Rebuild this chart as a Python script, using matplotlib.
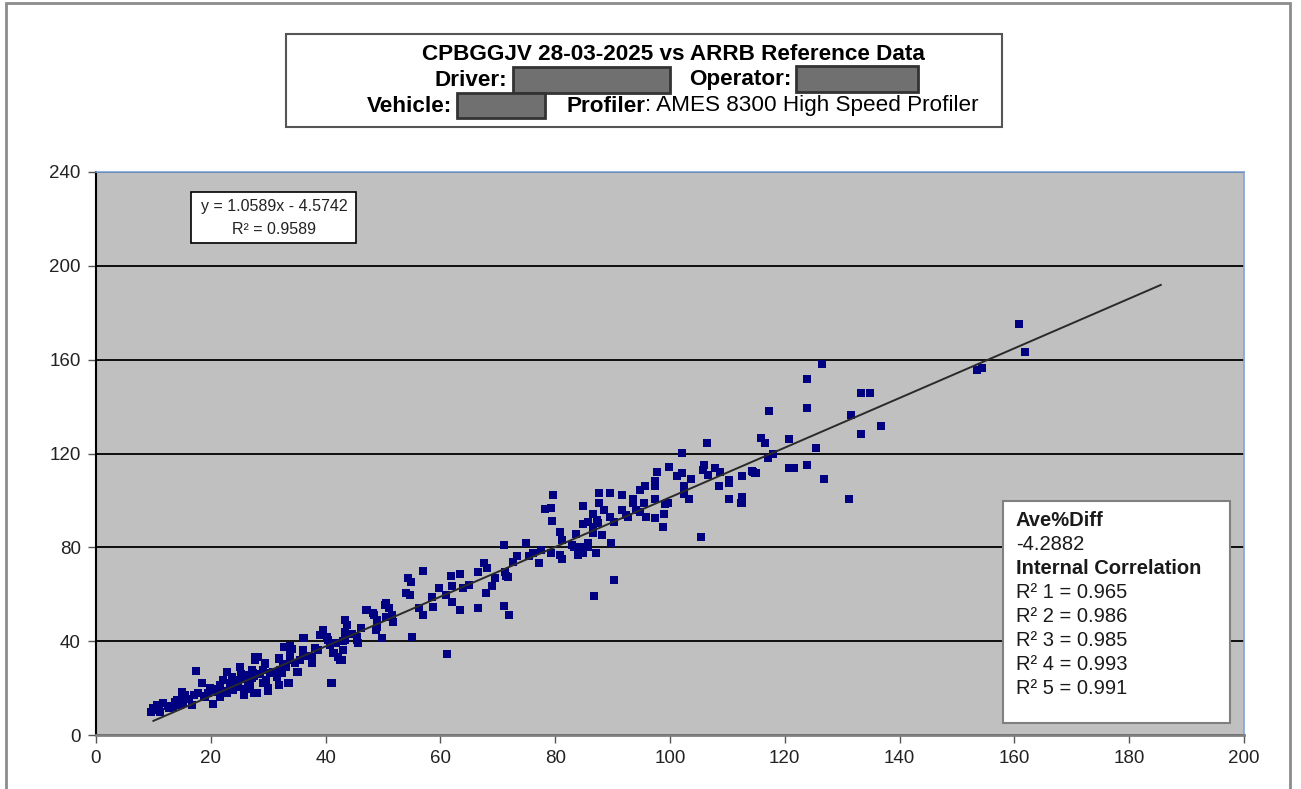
import matplotlib.pyplot as plt
from matplotlib.patches import Rectangle

plt.rcParams['font.family'] = ['Liberation Sans', 'DejaVu Sans']

# reference IRI (x) vs profiler IRI (y)
ref_x = [10, 10.6, 11.7, 14.1, 14.9, 15.5, 13.5, 14.6, 17.5, 18.4, 17, 17.8, 16.7,
         20.4, 21.6, 22.2, 22.9, 23.3, 20.4, 21.6, 22.8, 23.9, 24.5, 25.1, 25.7, 26,
         26.8, 27.1, 27.7, 28.3, 28, 29.1, 29.7, 30, 31.8, 32.1, 32.9, 33.5, 33.8, 34.7, 35,
         36.1, 36.1, 37.6, 38.2, 39.6, 40.2, 40.8, 41.1, 41.5, 42.5,
         43.4, 43.7, 43.4, 43.1, 45.4, 45.7, 47.2, 48.3, 48.9, 50.3, 50.6,
         9.5, 11, 12.5, 16, 19, 19.5, 21, 23.5, 24.5, 25.5, 26.5, 27.5,
         57, 54.4, 54.9, 54, 54.7, 55.1, 61.1, 58.5, 58.7, 59.8, 57, 56.2, 61.8, 62.1, 63.5,
         63.5, 62, 60.9, 64, 64.9, 66.5, 66.5, 67.6, 68.2, 67.9, 69, 69.5, 71.5,
         47, 48.4, 48.9, 50.5, 51.1, 51.5, 49.8, 48.8, 48.9, 51.7, 43.3, 43, 45.4,
         39.5, 40.5, 41.3, 42.2, 42.8, 40.9, 36.3, 36.1, 37.6, 37.6, 33.8, 32.8, 33.8, 33.1,
         32.4, 35.2, 33.7, 31.8, 29.4, 30.3, 29.1, 30, 27.7, 27.4, 26.8, 27.5, 31.8, 31.5,
         106.5, 102.1, 99.8, 97.8, 101.3, 102.1, 103.6, 105.9, 105.7, 106.7, 107.8, 108.7,
         108.5, 110.2, 110.3, 112.5, 114.4, 114.9, 97.3, 97.3, 102.4, 95.6, 94.7, 110.3,
         112.5, 112.3, 105.4, 102.5, 103.3, 99.7, 99.1, 97.3, 99, 98.8, 97.3, 95.5, 95.8,
         93.5, 93.5, 94.7, 94.1, 91.6, 89.5, 87.6, 87.6, 91.6, 92.3, 92.6, 88.5, 89.5, 90.3,
         86.5, 87.2, 84.9, 84.9, 85.7, 86.6, 87.5, 88.1, 86.5, 89.7, 90.3, 86.8, 87.1, 85.7,
         84.3, 83.6, 82.9, 83.2, 84, 80.8, 81.1, 79.7, 79.3, 78.2, 79.5, 80.8, 81.1, 79.3,
         77.5, 77.1, 76.2, 75.5, 74.9, 73.3, 72.7, 71.1, 71.3, 71.7, 71.1, 72, 84.9, 85.7,
         160.8, 161.8, 153.5, 154.4, 126.5, 123.8, 117.3, 123.8, 133.2, 134.8, 131.6, 136.8,
         133.2, 115.8, 116.5, 120.8, 125.4, 117, 117.9, 123.8, 120.8, 121.6, 114.3, 114.8,
         112.5, 126.8, 131.1, 112.5, 112.5,
         11.2, 12.8, 13.8, 15.2, 16.2, 18.8, 19.8, 20.8, 22.4, 23.7, 24.8, 25.2, 26.2,
         27.2, 28.6, 29.4, 30.8, 32.6, 34.2, 35.6, 37, 38.6, 39, 41.8, 44.6, 46.2]
hsp_y = [11.4, 12.8, 13.5, 14.9, 18.5, 17.1, 12.1, 12.8, 27.4, 22, 17.1, 17.8, 12.8,
         19.2, 21.3, 23.4, 27, 22, 13.2, 16.3, 17.8, 19.2, 23.4, 29.1, 17.1, 25.6,
         22.7, 27.7, 32, 33.4, 17.8, 27.7, 23.4, 19.9, 32.7, 27.7, 29.8, 22, 34.1, 30.6, 27,
         41.2, 36.2, 32.7, 37, 44.8, 41.9, 38.4, 22, 34.8, 32,
         49, 46.9, 40.5, 36.2, 40.5, 39.1, 53.3, 51.9, 46.2, 55.4, 50.4,
         10, 10.5, 12.5, 15.5, 16, 18, 18.5, 21, 20.5, 24, 21.5, 25,
         69.9, 66.8, 65.1, 60.7, 59.7, 41.9, 34.5, 59, 54.4, 62.5, 51.2, 54, 67.8, 63.5, 68.5,
         53.3, 56.8, 59.7, 62.5, 63.9, 54, 69.6, 73.4, 71.1, 60.7, 63.5, 66.8, 67.8,
         53.3, 51.2, 49, 56.1, 54, 51.2, 41.5, 44.8, 46.9, 48.3, 44, 40.1, 41.9,
         44.8, 40.5, 34.8, 33.4, 32, 22, 41.2, 35.5, 33.4, 30.6, 37.9, 37.4, 32, 29.1,
         26.3, 27, 22, 21.3, 30.6, 26.3, 22, 18.9, 33.4, 26.3, 21.3, 17.8, 32.3, 24.9,
         124.3, 120.1, 114.4, 112.2, 110.4, 111.5, 109, 115.1, 113, 110.8, 113.7, 112.2,
         106.1, 108.7, 107.5, 110.4, 112.2, 111.8, 108.3, 106.3, 106.3, 106.1, 104.4, 100.5,
         101.2, 99, 84.5, 102.7, 100.5, 98.8, 98.5, 100.5, 94.2, 88.5, 92.4, 98.8, 93.1,
         100.5, 98.8, 95.2, 95.9, 102.3, 103.3, 103.3, 99, 95.9, 93.8, 93.1, 95.9, 93.1, 90.9,
         94.1, 91.6, 97.6, 89.8, 90.7, 88.8, 90.2, 85.3, 86.2, 81.7, 66.1, 59.3, 77.7, 81.7,
         80.3, 85.6, 81, 80.3, 76.7, 86.4, 83.1, 102.3, 96.9, 96.3, 91.3, 76.7, 74.9, 77.7,
         78.9, 73.4, 77.7, 76.3, 81.7, 76.3, 73.9, 81, 69.6, 67.2, 55, 51.2, 77.4, 80.3,
         175.2, 163.3, 155.6, 156.4, 158.1, 151.6, 138.2, 139.5, 145.6, 145.6, 136.3, 131.7,
         128.3, 126.5, 124.3, 126.3, 122.5, 118, 120, 115, 113.7, 113.7, 112.5, 111.8,
         110.4, 109, 100.5, 101.6, 98.8,
         9.8, 11.6, 14.2, 13.6, 15.4, 16.6, 20.2, 19.4, 18.8, 24.6, 20.4, 26.2, 19.6,
         24.2, 25.8, 30.4, 26.8, 30.2, 36.6, 31.8, 33.6, 36.2, 42.6, 39.4, 43.2, 45.8]

slope = 1.0589
intercept = -4.5742
r2 = 0.9589
trend_x = [10, 185.5]

ave_diff = -4.2882
internal_r2 = [0.965, 0.986, 0.985, 0.993, 0.991]

W, H = 1301, 789
fig = plt.figure(figsize=(W / 100, H / 100), dpi=100)


def fx(px):
    return px / W


def fy(py):
    return 1 - py / H


def box(x0, y0, x1, y1, **kw):
    # rectangle given in pixel corners of the sheet
    fig.patches.append(Rectangle((fx(x0), fy(y1)), fx(x1) - fx(x0), fy(y0) - fy(y1),
                                 transform=fig.transFigure, **kw))


# outer frame of the sheet
box(6, 3, 1290, 800, fill=False, edgecolor='#8c8c8c', linewidth=2)

ax = fig.add_axes([fx(96), fy(735), fx(1244) - fx(96), fy(172) - fy(735)])
ax.set_facecolor('#c0c0c0')

ax.scatter(ref_x, hsp_y, marker='s', s=30, color='#000080', linewidths=0, zorder=3)
ax.plot(trend_x, [slope * v + intercept for v in trend_x], color='#2a2a2a',
        linewidth=1.4, zorder=4)

ax.set_xlim(0, 200)
ax.set_ylim(0, 240)
ax.set_xticks(range(0, 201, 20))
ax.set_yticks(range(0, 241, 40))
ax.yaxis.grid(True, color='black', linewidth=1.3)
ax.set_axisbelow(True)
ax.tick_params(labelsize=13.5, labelcolor='#222222', length=6, width=1,
               color='#555555', pad=5)
ax.spines['left'].set_color('black')
ax.spines['left'].set_linewidth(1.5)
ax.spines['bottom'].set_color('#808080')
ax.spines['bottom'].set_linewidth(2)
for s in ['top', 'right']:
    ax.spines[s].set_color('#7ea6d8')
    ax.spines[s].set_linewidth(1.2)

# equation of the trendline
box(191, 192, 356, 243, facecolor='white', edgecolor='black', linewidth=1.2, zorder=5)
fig.text(fx(274), fy(207), f'y = {slope}x - {-intercept}', fontsize=11.5, ha='center',
         va='center', color='#222222', zorder=6)
fig.text(fx(274), fy(229), f'R² = {r2}', fontsize=11.5, ha='center', va='center',
         color='#222222', zorder=6)

# stats box
box(1003, 501, 1230, 723, facecolor='white', edgecolor='#808080', linewidth=1.5, zorder=5)
stats = [('Ave%Diff', 'bold'), (f'{ave_diff}', 'normal'), ('Internal Correlation', 'bold')]
stats += [(f'R² {i + 1} = {v:.3f}', 'normal') for i, v in enumerate(internal_r2)]
for i, (t, w) in enumerate(stats):
    fig.text(fx(1016), fy(521 + 24 * i), t, fontsize=14.5, fontweight=w, ha='left',
             va='center', color='#1a1a1a', zorder=6)

# title box (kept below the text)
box(286, 34, 1002, 127, facecolor='white', edgecolor='#555555', linewidth=1.5, zorder=-1)
fig.text(fx(673), fy(54), 'CPBGGJV 28-03-2025 vs ARRB Reference Data', fontsize=16.2,
         fontweight='bold', ha='center', va='center')
fig.text(fx(507), fy(80), 'Driver:', fontsize=16.2, fontweight='bold', ha='right',
         va='center')
fig.text(fx(791), fy(79), 'Operator:', fontsize=16.2, fontweight='bold', ha='right',
         va='center')
fig.text(fx(452), fy(106), 'Vehicle:', fontsize=16.2, fontweight='bold', ha='right',
         va='center')
prof = fig.text(fx(566), fy(106), 'Profiler', fontsize=16.2, fontweight='bold',
                ha='left', va='center')
ax.annotate(': AMES 8300 High Speed Profiler', xy=(1, 0.5), xycoords=prof,
            fontsize=16.2, ha='left', va='center', annotation_clip=False, zorder=10)

# redacted name blocks
for x0, y0, x1, y1 in [(513, 67, 670, 93), (796, 66, 918, 92), (457, 93, 545, 118)]:
    box(x0, y0, x1, y1, facecolor='#707070', edgecolor='#333333', linewidth=2)

fig.savefig('out.png', dpi=100)
